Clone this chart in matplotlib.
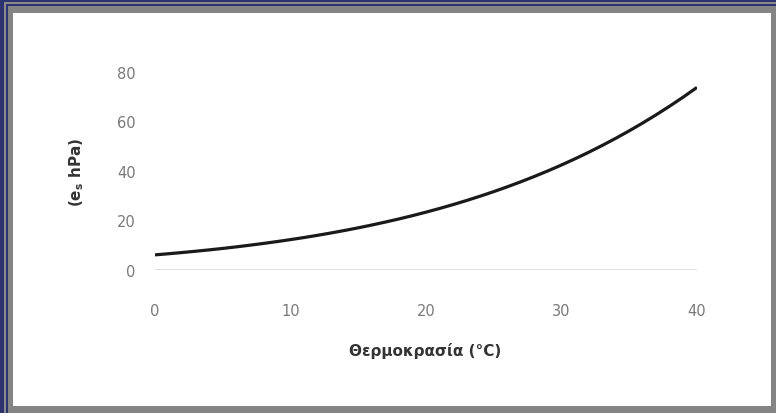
import matplotlib
matplotlib.use("Agg")
import matplotlib.pyplot as plt
from matplotlib.patches import Rectangle

# Data: saturation vapour pressure (hPa) vs temperature (°C)
temperature = list(range(0, 41))
pressure = [6.11, 6.57, 7.06, 7.58, 8.13, 8.72, 9.35, 10.02, 10.73, 11.48,
            12.28, 13.12, 14.02, 14.97, 15.98, 17.04, 18.17, 19.37, 20.63, 21.96,
            23.37, 24.86, 26.43, 28.09, 29.83, 31.67, 33.61, 35.65, 37.80, 40.06,
            42.43, 44.93, 47.55, 50.31, 53.20, 56.24, 59.42, 62.76, 66.26, 69.93,
            73.78]
x_ticks = [0, 10, 20, 30, 40]
y_ticks = [0, 20, 40, 60, 80]
x_label = "Θερμοκρασία (°C)"
y_label = r"(e$_{\mathbf{s}}$ hPa)"

W, H = 776, 414
fig = plt.figure(figsize=(W / 100, H / 100), dpi=100)
fig.patch.set_facecolor("#2d3270")

def px_rect(x0, y0, x1, y1, color, z):
    fig.patches.append(Rectangle((x0 / W, 1 - y1 / H), (x1 - x0) / W, (y1 - y0) / H,
                                 transform=fig.transFigure, facecolor=color,
                                 edgecolor="none", zorder=z))

px_rect(4, 3, 776, 414, "#8a8a8a", 0)
px_rect(6, 5, 776, 414, "#2d3270", 0.5)
px_rect(8, 7, 776, 414, "#848484", 1)
px_rect(13, 14, 771, 407, "#ffffff", 2)

ax = fig.add_axes([155 / W, 1 - 271 / H, 542 / W, 198 / H])
ax.set_zorder(3)
ax.patch.set_alpha(0)
ax.plot(temperature, pressure, color="#1a1a1a", lw=2.3, solid_capstyle="butt")
ax.axhline(0, color="#d9d9d9", lw=1.2, zorder=1)

ax.set_xlim(0, 40)
ax.set_ylim(0, 80)
ax.set_xticks(x_ticks)
ax.set_yticks(y_ticks)
for s in ax.spines.values():
    s.set_visible(False)
ax.tick_params(axis="both", length=0, labelsize=10.5, labelcolor="#7a7a7a")
ax.tick_params(axis="y", pad=14)
ax.tick_params(axis="x", pad=24)

ax.set_xlabel(x_label, fontsize=11, fontweight="bold", color="#333333")
ax.xaxis.set_label_coords(0.498, -0.365)
ax.set_ylabel(y_label, fontsize=11, fontweight="bold", color="#333333")
ax.yaxis.set_label_coords(-0.128, 0.5)

fig.savefig("out.png", dpi=100, facecolor=fig.get_facecolor())
